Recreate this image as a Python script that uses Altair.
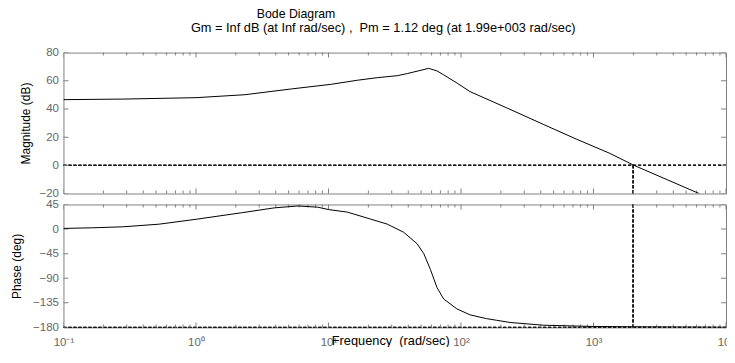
import altair as alt
import pandas as pd

# ---------------- data ----------------
title_text = "Bode Diagram"
subtitle_text = "Gm = Inf dB (at Inf rad/sec) ,\u00a0 Pm = 1.12 deg (at 1.99e+003 rad/sec)"
x_title = "Frequency\u00a0 (rad/sec)"
mag_title = "Magnitude (dB)"
phase_title = "Phase (deg)"

mag_freq = [0.1, 0.28, 1.0, 2.34, 5.25, 10.5, 16.6, 23.4, 33, 39.3, 57, 65.9,
            74, 93.6, 117, 221, 417, 742, 1320, 2018, 6260]
mag_db = [46.6, 47.0, 48.0, 50.1, 54.2, 57.5, 60.4, 62.2, 63.6, 65.1, 68.8, 67.0,
          64.2, 58.3, 52.3, 40.8, 29.1, 18.6, 8.6, 0.0, -20.0]

phase_freq = [0.1, 0.166, 0.28, 0.525, 1.0, 2.2, 3.9, 5.9, 8.3, 10, 13.9, 20.3,
              27.8, 37, 46.7, 52.4, 58.8, 65.9, 74, 93, 117, 156, 186, 235,
              417, 1000, 1990, 10000]
phase_deg = [1.2, 2.3, 4.1, 8.9, 17.9, 29.8, 38.8, 42.3, 40.0, 35.7, 31.0, 19.0,
             9.0, -6.0, -27.0, -45.0, -74.0, -107.0, -128.0, -146.0, -157.0, -164.0, -167.0, -171.0,
             -176.0, -178.3, -178.9, -179.8]

mag_ticks = [80, 60, 40, 20, 0, -20]
phase_ticks = [45, 0, -45, -90, -135, -180]
x_decades = [0.1, 1, 10, 100, 1000, 10000]
x_labels = ["10\u207b\u00b9", "10\u2070", "10\u00b9", "10\u00b2", "10\u00b3", "10\u2074"]
x_minor = [m * d for d in x_decades[:-1] for m in range(2, 10)]

crossover = 1990     # rad/sec (Pm frequency)
mag_ref = 0          # dB reference line
phase_ref = -180     # deg reference line

# ---------------- style ----------------
FONT = "Liberation Sans"
FRAME = "#808080"
LABEL = "#666666"
DASH = "#1a1a1a"
W = 663
H_MAG = 141
H_PH = 123

xscale = alt.Scale(type="log", domain=[x_decades[0], x_decades[-1]], nice=False)
label_expr = "[" + ",".join("'" + s + "'" for s in x_labels) + "][round(log(datum.value)/LN10)+1]"


def panel(freqs, vals, yticks, height, ytitle, title_x, show_x, ref, vline_from, vline_to):
    ys = alt.Scale(domain=[yticks[-1], yticks[0]], nice=False, zero=False)
    yaxis = alt.Axis(values=yticks, title=ytitle, titleX=title_x, titleBaseline="middle",
                     labelPadding=5)
    if show_x:
        xaxis = alt.Axis(values=x_decades, labelExpr=label_expr, title=x_title,
                         labelPadding=9, labelBaseline="top", titleX=327, titleY=7,
                         titleBaseline="top", titleFontSize=12.8,
                         labelFlush=False, labelOverlap=False)
    else:
        xaxis = alt.Axis(values=x_decades, labels=False, title=None)

    def X(field="freq"):
        return alt.X(field + ":Q", scale=xscale, axis=xaxis)

    def Y(field="val"):
        return alt.Y(field + ":Q", scale=ys, axis=yaxis)

    curve = pd.DataFrame({"freq": freqs, "val": vals})
    major = pd.DataFrame({"freq": x_decades})
    minor = pd.DataFrame({"freq": x_minor})
    yt = pd.DataFrame({"val": yticks})

    layers = []
    layers.append(alt.Chart(yt).mark_rule(color=DASH, strokeDash=[3, 2], strokeWidth=0.9)
                  .encode(y=alt.YDatum(ref, scale=ys, axis=yaxis)))
    layers.append(alt.Chart(yt).mark_rule(color=DASH, strokeDash=[3, 2], strokeWidth=0.9)
                  .encode(x=alt.XDatum(crossover, scale=xscale, axis=xaxis),
                          y=alt.YDatum(vline_from, scale=ys, axis=yaxis),
                          y2=alt.datum(vline_to)))
    for edge in (yticks[0], yticks[-1]):
        layers.append(alt.Chart(major).mark_tick(orient="vertical", size=10, thickness=1,
                                                 color=FRAME, clip=True, opacity=1)
                      .encode(x=X(), y=alt.YDatum(edge, scale=ys, axis=yaxis)))
        layers.append(alt.Chart(minor).mark_tick(orient="vertical", size=6, thickness=1,
                                                 color=FRAME, clip=True, opacity=1)
                      .encode(x=X(), y=alt.YDatum(edge, scale=ys, axis=yaxis)))
    for edge in (x_decades[0], x_decades[-1]):
        layers.append(alt.Chart(yt).mark_tick(orient="horizontal", size=10, thickness=1,
                                              color=FRAME, clip=True, opacity=1)
                      .encode(x=alt.XDatum(edge, scale=xscale, axis=xaxis), y=Y()))
    layers.append(alt.Chart(curve).mark_line(color="black", strokeWidth=1, clip=True)
                  .encode(x=X(), y=Y()))
    return alt.layer(*layers).properties(width=W, height=height)


mag = panel(mag_freq, mag_db, mag_ticks, H_MAG, mag_title, -37.5, False,
            mag_ref, mag_ref, mag_ticks[-1]).properties(
    title=alt.TitleParams(subtitle_text, anchor="middle", frame="group", dx=-11.5,
                          offset=12, fontSize=12.8))
phase = panel(phase_freq, phase_deg, phase_ticks, H_PH, phase_title, -46.5, True,
              phase_ref, phase_ticks[0], phase_ref)

chart = alt.vconcat(mag, phase, spacing=11, bounds="flush",
                    title=alt.TitleParams(title_text, anchor="start", frame="group",
                                          dx=193.5, offset=1)).properties(
    padding={"left": 1.5, "top": -0.5, "right": -9, "bottom": -2}
).configure_view(stroke=FRAME, strokeWidth=1).configure_axis(
    labelFont=FONT, titleFont=FONT, labelFontSize=11.5, titleFontSize=12,
    labelColor=LABEL, titleColor="black", titleFontWeight="normal",
    grid=False, domain=False, ticks=False, tickSize=0
).configure_title(font=FONT, fontSize=12.3, fontWeight="normal", color="black",
                  subtitleFont=FONT)

chart.save("out.html", embed_options={"renderer": "svg", "actions": False})
